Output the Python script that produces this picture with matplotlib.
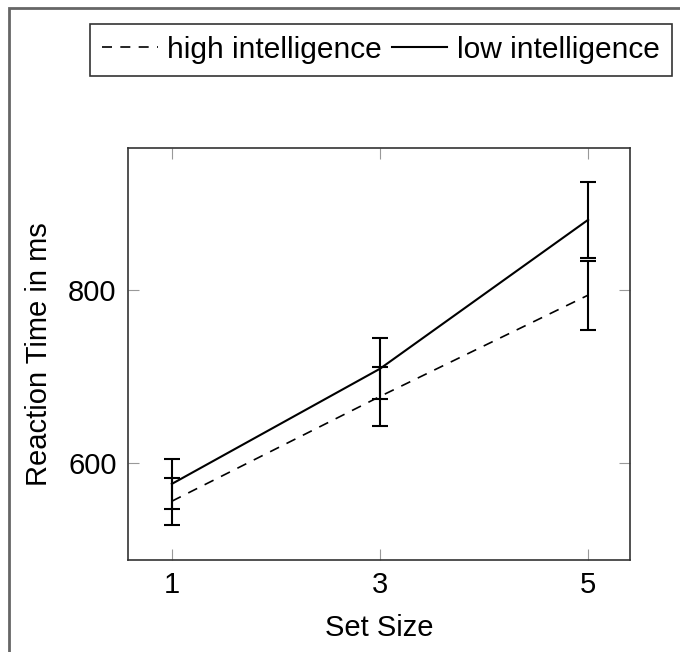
import numpy as np
import matplotlib.pyplot as plt
from matplotlib.patches import Rectangle
from matplotlib.lines import Line2D

plt.rcParams['font.family'] = ['Liberation Sans', 'DejaVu Sans']

set_size = [1, 3, 5]
high_rt = [556, 677, 794]
high_err = [27, 34, 40]
low_rt = [576, 709, 881]
low_err = [29, 35, 44]

fig = plt.figure(figsize=(6.8, 6.52), dpi=100)
ax = fig.add_axes([0.188, 0.141, 0.738, 0.632])

dash = (0, (6, 5))
ax.errorbar(set_size, high_rt, yerr=high_err, color='black', linestyle=dash,
            linewidth=1.2, capsize=6, elinewidth=1.5, capthick=1.5)
ax.errorbar(set_size, low_rt, yerr=low_err, color='black', linestyle='-',
            linewidth=1.5, capsize=6, elinewidth=1.5, capthick=1.5)

ax.set_xlim(0.577, 5.40)
ax.set_ylim(488, 964)
ax.set_xticks(set_size)
ax.set_yticks([600, 800])
ax.tick_params(direction='in', length=8, color='#999999', labelsize=21,
               top=True, right=True, pad=8)
for s in ax.spines.values():
    s.set_linewidth(1.2)
    s.set_color('#333333')

ax.set_xlabel('Set Size', fontsize=21, labelpad=11)
ax.set_ylabel('Reaction Time in ms', fontsize=21, labelpad=11)

handles = [Line2D([], [], color='black', linestyle=dash, linewidth=1.2),
           Line2D([], [], color='black', linestyle='-', linewidth=1.5)]
labels = ['high intelligence', 'low intelligence']
leg = fig.legend(handles, labels, ncol=2, loc='upper right',
                 bbox_to_anchor=(672 / 680, 1 - 24 / 652), fontsize=21.5,
                 frameon=True, fancybox=False, edgecolor='black',
                 handlelength=1.85, handletextpad=0.33, columnspacing=0.33,
                 borderpad=0.4, borderaxespad=0)
leg.get_frame().set_linewidth(1.2)

# outer frame of the picture (only left and top edges are in view)
fig.add_artist(Rectangle((9 / 680, -0.1), 1.2, 1.1 - 8 / 652, transform=fig.transFigure,
                         fill=False, edgecolor='#666666', linewidth=2))

fig.savefig('out.png', dpi=100)
